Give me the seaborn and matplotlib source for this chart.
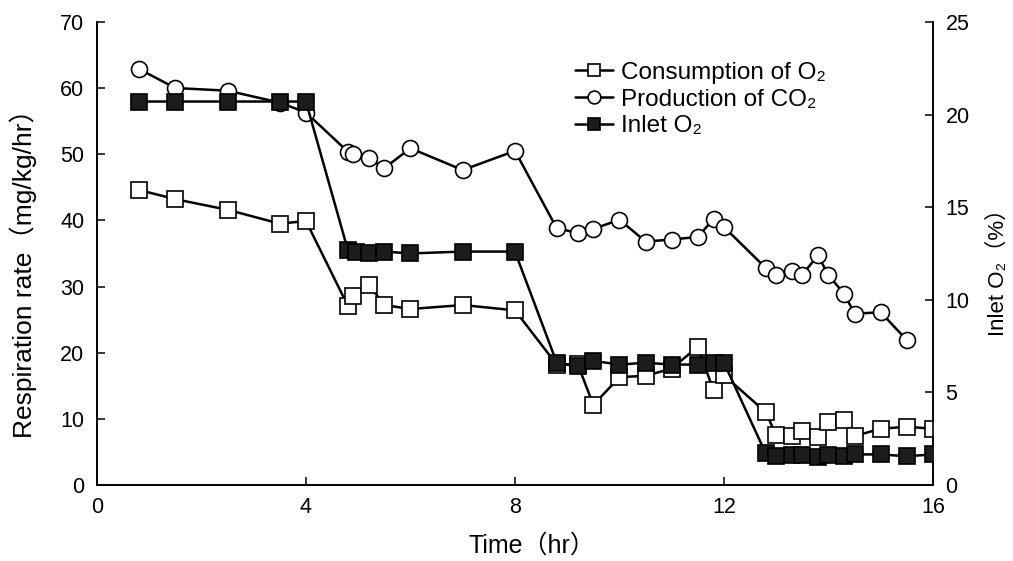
import numpy as np
import pandas as pd
import matplotlib
matplotlib.use("Agg")
import matplotlib.pyplot as plt
import seaborn as sns

# ---- data ----
time_o2 = [0.8, 1.5, 2.5, 3.5, 4.0, 4.8, 4.9, 5.2, 5.5, 6.0, 7.0, 8.0, 8.8, 9.2, 9.5, 10.0,
           10.5, 11.0, 11.5, 11.8, 12.0, 12.8, 13.0, 13.3, 13.5, 13.8, 14.0, 14.3, 14.5,
           15.0, 15.5, 16.0]
consumption_o2 = [44.6, 43.2, 41.6, 39.5, 39.9, 27.1, 28.5, 30.3, 27.2, 26.6, 27.2, 26.4,
                  18.2, 18.3, 12.1, 16.3, 16.5, 17.6, 20.9, 14.3, 16.6, 11.0, 7.5, 7.4, 8.2,
                  7.3, 9.5, 9.8, 7.4, 8.5, 8.8, 8.5]

time_co2 = [0.8, 1.5, 2.5, 3.5, 4.0, 4.8, 4.9, 5.2, 5.5, 6.0, 7.0, 8.0, 8.8, 9.2, 9.5, 10.0,
            10.5, 11.0, 11.5, 11.8, 12.0, 12.8, 13.0, 13.3, 13.5, 13.8, 14.0, 14.3, 14.5,
            15.0, 15.5]
production_co2 = [62.9, 60.0, 59.6, 57.8, 56.3, 50.4, 50.1, 49.4, 47.9, 50.9, 47.6, 50.5,
                  38.8, 38.1, 38.7, 40.1, 36.8, 37.1, 37.5, 40.2, 39.0, 32.8, 31.8, 32.4,
                  31.8, 34.7, 31.7, 28.9, 25.9, 26.1, 21.9]

time_inlet = [0.8, 1.5, 2.5, 3.5, 4.0, 4.8, 4.95, 5.2, 5.5, 6.0, 7.0, 8.0, 8.8, 9.2, 9.5,
              10.0, 10.5, 11.0, 11.5, 11.8, 12.0, 12.8, 13.0, 13.3, 13.5, 13.8, 14.0, 14.3,
              14.5, 15.0, 15.5, 16.0]
inlet_o2 = [20.7, 20.7, 20.7, 20.7, 20.7, 12.7, 12.6, 12.5, 12.6, 12.5, 12.6, 12.6, 6.6,
            6.4, 6.7, 6.5, 6.6, 6.5, 6.5, 6.6, 6.6, 1.7, 1.55, 1.6, 1.6, 1.5, 1.6, 1.55,
            1.65, 1.65, 1.55, 1.65]

x_ticks = [0, 4, 8, 12, 16]
left_ticks = [0, 10, 20, 30, 40, 50, 60, 70]
right_ticks = [0, 5, 10, 15, 20, 25]

series_labels = ["Consumption of O\u2082", "Production of CO\u2082", "Inlet O\u2082"]
x_label = "Time\uff08hr\uff09"
y_label = "Respiration rate\uff08mg/kg/hr\uff09"
y2_label = "Inlet O\u2082\uff08%\uff09"

# ---- style ----
sns.set_theme(style="ticks")
plt.rcParams["font.family"] = ["Liberation Sans", "Noto Sans CJK JP", "DejaVu Sans"]
for k in ["text.color", "axes.labelcolor", "xtick.color", "ytick.color", "axes.edgecolor"]:
    plt.rcParams[k] = "black"

fig = plt.figure(figsize=(10.13, 5.61), dpi=100)
ax = fig.add_axes([0.0957, 0.1355, 0.8253, 0.8255])
ax2 = ax.twinx()

df1 = pd.DataFrame({"t": time_o2, "v": consumption_o2})
df2 = pd.DataFrame({"t": time_co2, "v": production_co2})
df3 = pd.DataFrame({"t": time_inlet, "v": inlet_o2})

common = dict(color="black", linewidth=1.8, markersize=11.5, markeredgewidth=1.2,
              markeredgecolor="black", estimator=None, sort=False)

sns.lineplot(data=df1, x="t", y="v", ax=ax, marker="s", markerfacecolor="white",
             label=series_labels[0], zorder=3, **common)
sns.lineplot(data=df2, x="t", y="v", ax=ax, marker="o", markerfacecolor="white",
             label=series_labels[1], zorder=2, **common)
sns.lineplot(data=df3, x="t", y="v", ax=ax2, marker="s", markerfacecolor="#1c1c1c",
             label=series_labels[2], zorder=4, **common)

ax.set_xlim(0, 16)
ax.set_ylim(0, 70)
ax2.set_ylim(0, 25)
ax.set_xticks(x_ticks)
ax.set_yticks(left_ticks)
ax2.set_yticks(right_ticks)

for a in (ax, ax2):
    a.spines["top"].set_visible(False)
    for s in a.spines.values():
        s.set_linewidth(1.2)
        s.set_color("black")
    a.tick_params(direction="in", length=6, width=1.1, labelsize=15.5, pad=9, colors="black")

ax.set_xlabel(x_label, fontsize=18)
ax.set_ylabel(y_label, fontsize=19)
ax2.set_ylabel(y2_label, fontsize=16)
ax.xaxis.set_label_coords(0.52, -0.105)
ax.yaxis.set_label_coords(-0.072, 0.471)
ax2.yaxis.set_label_coords(1.066, 0.471)

h1, l1 = ax.get_legend_handles_labels()
h2, l2 = ax2.get_legend_handles_labels()
if ax.get_legend() is not None:
    ax.get_legend().remove()
if ax2.get_legend() is not None:
    ax2.get_legend().remove()
ax2.legend(h1 + h2, l1 + l2, loc="upper left", bbox_to_anchor=(0.56, 0.935),
           frameon=False, fontsize=17.5, handlelength=1.55, handletextpad=0.35,
           labelspacing=0.2, borderaxespad=0, markerscale=0.8)

fig.savefig("out.png", dpi=100)
